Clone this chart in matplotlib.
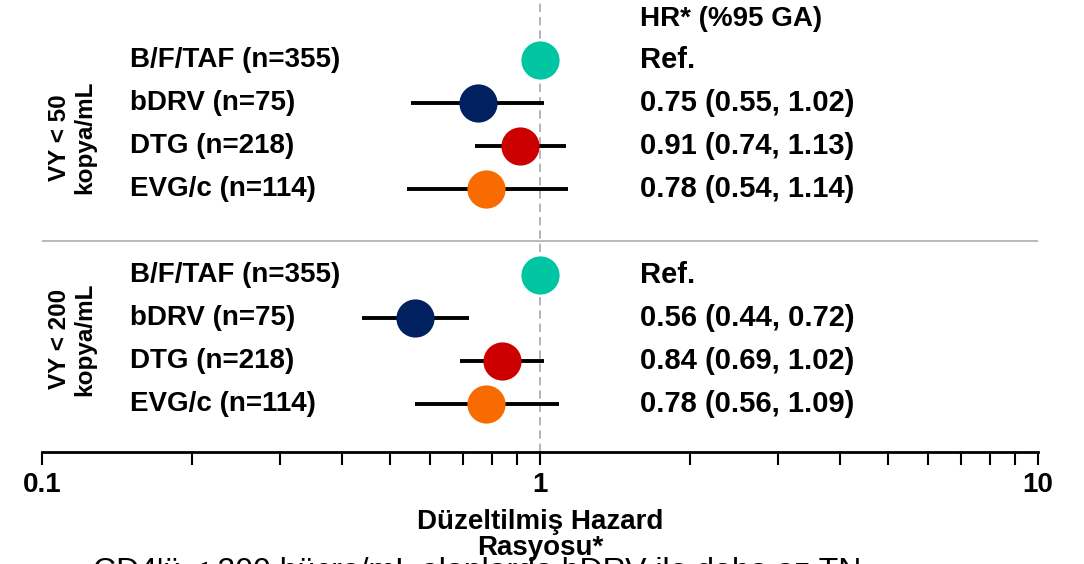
import matplotlib.pyplot as plt
from matplotlib.ticker import LogLocator, FixedLocator, FixedFormatter, NullFormatter

plt.rcParams['font.family'] = ['Liberation Sans', 'DejaVu Sans']

# --- data ---
treatments = ["B/F/TAF (n=355)", "bDRV (n=75)", "DTG (n=218)", "EVG/c (n=114)"]
colors = ["#00C4A2", "#002060", "#CC0000", "#F76B00"]

group_labels = ["VY < 50\nkopya/mL", "VY < 200\nkopya/mL"]

hr_50 = [1.0, 0.75, 0.91, 0.78]
lo_50 = [None, 0.55, 0.74, 0.54]
hi_50 = [None, 1.02, 1.13, 1.14]
txt_50 = ["Ref.", "0.75 (0.55, 1.02)", "0.91 (0.74, 1.13)", "0.78 (0.54, 1.14)"]

hr_200 = [1.0, 0.56, 0.84, 0.78]
lo_200 = [None, 0.44, 0.69, 0.56]
hi_200 = [None, 0.72, 1.02, 1.09]
txt_200 = ["Ref.", "0.56 (0.44, 0.72)", "0.84 (0.69, 1.02)", "0.78 (0.56, 1.09)"]

x_ticks = [0.1, 1, 10]
x_tick_labels = ["0.1", "1", "10"]

# row layout
rows_50 = [1, 2, 3, 4]
rows_200 = [6, 7, 8, 9]

W, H = 1084, 564
fig = plt.figure(figsize=(W / 100, H / 100), dpi=100)
ax = fig.add_axes([42 / W, 1 - 452 / H, 996 / W, 452 / H])
ax.set_xscale('log')
ax.set_xlim(0.1, 10)
ax.set_ylim(10.12, -0.4)

ax.axvline(1, color='#A8A8A8', lw=1.2, ls=(0, (5, 3)), zorder=1)
ax.axhline(5.2, color='#B4B4B4', lw=1.3, zorder=1)

lbl_x = (130 - 42) / 996
val_x = (640 - 42) / 996
grp_x = (72 - 42) / 996
trans = ax.get_yaxis_transform()

groups = [
    (rows_50, hr_50, lo_50, hi_50, txt_50, group_labels[0], 2.8),
    (rows_200, hr_200, lo_200, hi_200, txt_200, group_labels[1], 7.5),
]
for rows, hr, lo, hi, txt, glabel, gy in groups:
    for i, y in enumerate(rows):
        if lo[i] is not None:
            ax.plot([lo[i], hi[i]], [y, y], color='black', lw=2.8,
                    solid_capstyle='butt', zorder=2)
        ax.plot(hr[i], y, 'o', ms=27.5, color=colors[i], mec='none', zorder=3)
        ax.text(lbl_x, y, treatments[i], transform=trans, ha='left', va='center',
                fontsize=20, fontweight='bold')
        ax.text(val_x, y, txt[i], transform=trans, ha='left', va='center',
                fontsize=21, fontweight='bold')
    ax.text(grp_x, gy, glabel, transform=trans, ha='center', va='center',
            rotation=90, fontsize=17.5, fontweight='bold', linespacing=1.1)

ax.text(val_x, 0.05, "HR* (%95 GA)", transform=trans, ha='left', va='center',
        fontsize=20, fontweight='bold')

# axes styling
for s in ['top', 'right', 'left']:
    ax.spines[s].set_visible(False)
ax.spines['bottom'].set_linewidth(2)
ax.set_yticks([])
ax.xaxis.set_major_locator(FixedLocator(x_ticks))
ax.xaxis.set_major_formatter(FixedFormatter(x_tick_labels))
ax.xaxis.set_minor_locator(LogLocator(base=10, subs=range(2, 10)))
ax.xaxis.set_minor_formatter(NullFormatter())
ax.tick_params(axis='x', which='both', direction='out', length=9.5, width=1.5, pad=5)
ax.tick_params(axis='x', which='major', labelsize=20)
for lab in ax.get_xticklabels():
    lab.set_fontweight('bold')

ax.set_xlabel("Düzeltilmiş Hazard\nRasyosu*", fontsize=20, fontweight='bold',
              linespacing=1.0, labelpad=8)

# caption running off the bottom edge, as in the source slide
fig.text(93 / W, 1 - 580 / H, "CD4'ü < 200 hücre/mL olanlarda bDRV ile daha az TN",
         fontsize=23, ha='left', va='baseline')

fig.savefig('out.png', dpi=100, facecolor='white')
